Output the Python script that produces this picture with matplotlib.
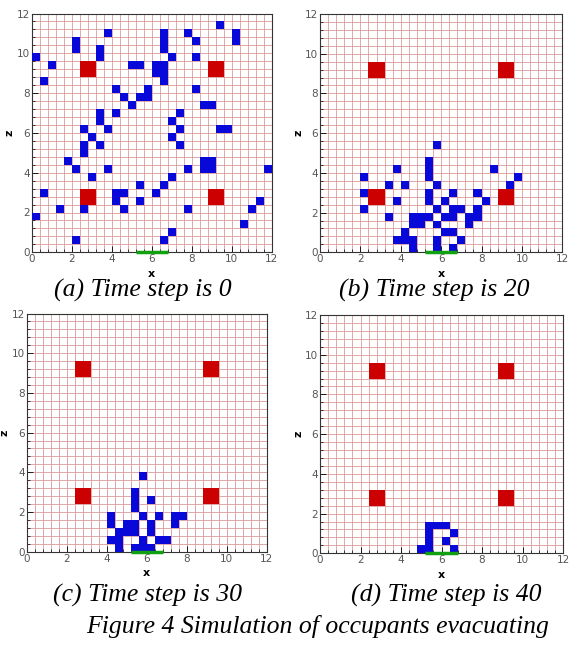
import matplotlib
matplotlib.use("Agg")
import matplotlib.pyplot as plt
from matplotlib.patches import Rectangle
import numpy as np

# ---------------- data ----------------
CELL = 0.4          # grid cell size (m)
ROOM = 12           # room extent (m)

# obstacles (centres) and size
obstacle_x = [2.8, 9.2, 2.8, 9.2]
obstacle_z = [2.8, 2.8, 9.2, 9.2]
OBST_SIZE = 0.8

# exit on the z = 0 wall
exit_x = [5.2, 6.8]

# occupied cells (column index along x, row index along z)
a_i = [0, 2, 1, 0, 1, 3, 5, 5, 9, 8, 8, 5, 6, 7, 6, 7, 6, 6, 8, 8, 8, 9, 4, 5, 9,
       10, 11, 12, 10, 12, 13, 13, 14, 14, 15, 16, 15, 16, 16, 16, 16, 16, 17, 19,
       20, 20, 23, 25, 25, 20, 21, 22, 23, 24, 18, 17, 18, 17, 18, 19, 21, 22, 21,
       22, 29, 17, 16, 15, 13, 13, 10, 11, 10, 11, 19, 17, 16, 26, 27, 28]
a_j = [24, 23, 21, 4, 7, 5, 26, 25, 27, 25, 24, 1, 5, 9, 15, 14, 13, 12, 13, 17, 16,
       15, 11, 10, 10, 20, 19, 18, 17, 23, 23, 19, 19, 20, 23, 23, 22, 22, 21, 27,
       26, 25, 24, 27, 26, 24, 28, 27, 26, 20, 18, 18, 15, 15, 17, 16, 15, 14, 13,
       10, 11, 11, 10, 10, 10, 9, 8, 7, 8, 6, 7, 7, 6, 5, 5, 2, 1, 3, 5, 6]

b_i = [14, 13, 13, 13, 9, 21, 5, 24, 8, 10, 14, 23, 5, 13, 16, 19, 9, 13, 15, 20,
       5, 14, 16, 17, 19, 8, 11, 12, 13, 15, 16, 18, 19, 11, 12, 14, 18, 10, 15, 16,
       9, 10, 11, 14, 17, 11, 14, 16]
b_j = [13, 11, 10, 9, 10, 10, 9, 9, 8, 8, 8, 8, 7, 7, 7, 7, 6, 6, 6, 6,
       5, 5, 5, 5, 5, 4, 4, 4, 4, 4, 4, 4, 4, 3, 3, 3, 3, 2, 2, 2,
       1, 1, 1, 1, 1, 0, 0, 0]

c_i = [14, 13, 13, 13, 15, 10, 14, 16, 18, 19, 10, 12, 13, 15, 18, 11, 12, 13, 15,
       10, 11, 14, 16, 17, 11, 13, 14, 15]
c_j = [9, 7, 6, 5, 6, 4, 4, 4, 4, 4, 3, 3, 3, 3, 3, 2, 2, 2, 2,
       1, 1, 1, 1, 1, 0, 0, 0, 0]

d_i = [13, 14, 15, 13, 16, 13, 15, 12, 13, 16]
d_j = [3, 3, 3, 2, 2, 1, 1, 0, 0, 0]

captions = ["(a) Time step is 0", "(b) Time step is 20",
            "(c) Time step is 30", "(d) Time step is 40"]
fig_title = "Figure 4 Simulation of occupants evacuating"
ticks = [0, 2, 4, 6, 8, 10, 12]

# ---------------- style ----------------
BLUE = "#0808d8"
RED = "#cc0000"
GREEN = "#10a010"
GRIDC = "#d99a9a"

W, H = 570, 646
fig = plt.figure(figsize=(W / 100, H / 100), dpi=100)

# axes rectangles in pixels: (left, top, right, bottom)
rects = [(31.7, 13.5, 271.7, 252.3),
         (320.0, 14.0, 562.3, 252.3),
         (26.7, 313.5, 266.7, 551.7),
         (320.0, 315.0, 563.0, 553.3)]
cells = [(a_i, a_j), (b_i, b_j), (c_i, c_j), (d_i, d_j)]
cap_pos = [(143, 290), (434, 290), (148, 595), (446, 595)]

for (l, t, r, b), (ci, cj), cap, (cx, cy) in zip(rects, cells, captions, cap_pos):
    ax = fig.add_axes([l / W, 1 - b / H, (r - l) / W, (b - t) / H])
    ax.set_xlim(0, ROOM)
    ax.set_ylim(0, ROOM)
    ax.set_xticks(ticks)
    ax.set_yticks(ticks)
    ax.set_xticks(np.arange(0, ROOM + 0.01, CELL), minor=True)
    ax.set_yticks(np.arange(0, ROOM + 0.01, CELL), minor=True)
    ax.set_xticklabels([str(v) for v in ticks])
    ax.set_yticklabels([str(v) for v in ticks])
    ax.grid(which="both", color=GRIDC, lw=0.6)
    ax.set_axisbelow(True)
    ax.tick_params(which="major", direction="in", length=4, width=0.6,
                   labelsize=7.5, labelcolor="#555555", pad=1.5,
                   top=False, right=False)
    ax.tick_params(which="minor", direction="in", length=2, width=0.5,
                   top=False, right=False)
    for s in ax.spines.values():
        s.set_linewidth(0.8)
        s.set_color("#333333")

    for i, j in zip(ci, cj):
        ax.add_patch(Rectangle((i * CELL, j * CELL), CELL, CELL,
                               facecolor=BLUE, edgecolor="none", zorder=3))
    for ox, oz in zip(obstacle_x, obstacle_z):
        ax.add_patch(Rectangle((ox - OBST_SIZE / 2, oz - OBST_SIZE / 2),
                               OBST_SIZE, OBST_SIZE,
                               facecolor=RED, edgecolor="none", zorder=3))
    ax.plot(exit_x, [0, 0], color=GREEN, lw=2.5, zorder=5, clip_on=False,
            solid_capstyle="butt")

    ax.set_xlabel("x", fontsize=8, fontweight="bold", labelpad=3)
    ax.set_ylabel("z", fontsize=8, fontweight="bold", labelpad=1)

    fig.text(cx / W, 1 - cy / H, cap, ha="center", va="center",
             fontsize=18.5, style="italic", family="Liberation Serif")

fig.text(318 / W, 1 - 626 / H, fig_title, ha="center", va="center",
         fontsize=18.5, style="italic", family="Liberation Serif")

fig.savefig("out.png", dpi=100)
